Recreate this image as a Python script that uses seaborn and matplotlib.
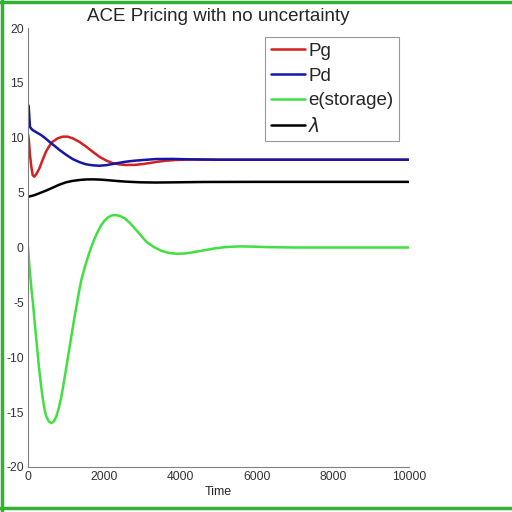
import matplotlib
matplotlib.use('Agg')
import matplotlib.pyplot as plt
import pandas as pd
import seaborn as sns
from matplotlib.lines import Line2D

# Data
t_pg = [0, 20, 52, 90, 122, 166, 220, 297, 380, 472, 560, 647, 780, 910,
        1040, 1172, 1350, 1522, 1700, 1872, 2050, 2222, 2400, 2572, 2800,
        3010, 3200, 3360, 3600, 3900, 4300, 5000, 6000, 10000]
pg = [10.3, 9.9, 8.43, 7.3, 6.6, 6.45, 6.7, 7.2, 7.95, 8.73, 9.25, 9.64,
      9.95, 10.1, 10.1, 9.95, 9.62, 9.2, 8.72, 8.27, 7.93, 7.69, 7.57, 7.52,
      7.53, 7.6, 7.7, 7.79, 7.9, 7.98, 8.02, 8.0, 8.0, 8.0]

t_pd = [0, 17, 35, 52, 80, 122, 220, 341, 450, 560, 690, 822, 1000, 1172,
        1350, 1522, 1700, 1872, 2050, 2222, 2400, 2572, 2800, 3010, 3360,
        3800, 4300, 5000, 10000]
pd_ = [13.0, 12.9, 11.9, 11.0, 10.85, 10.7, 10.5, 10.25, 9.97, 9.64, 9.28,
       8.9, 8.45, 8.06, 7.78, 7.58, 7.49, 7.45, 7.5, 7.61, 7.72, 7.82, 7.91,
       7.97, 8.06, 8.07, 8.03, 8.0, 8.0]

t_e = [0, 44, 90, 131, 175, 219, 262, 306, 350, 394, 437, 481, 547, 612,
       678, 744, 810, 875, 940, 1006, 1072, 1137, 1203, 1269, 1335, 1400,
       1490, 1575, 1660, 1750, 1840, 1925, 2010, 2100, 2200, 2293, 2410,
       2538, 2670, 2800, 2950, 3106, 3300, 3500, 3700, 3900, 4100, 4300,
       4600, 4900, 5200, 5550, 5900, 6300, 7000, 10000]
e = [0, -2.0, -3.8, -5.1, -6.8, -8.4, -10.0, -11.5, -12.8, -13.9, -14.8,
     -15.4, -15.85, -16.0, -15.85, -15.4, -14.6, -13.6, -12.3, -10.9, -9.5,
     -8.1, -6.7, -5.4, -4.1, -2.96, -1.8, -0.84, 0.05, 0.84, 1.5, 2.05,
     2.45, 2.75, 2.92, 2.96, 2.88, 2.66, 2.25, 1.75, 1.15, 0.53, 0.05,
     -0.3, -0.5, -0.57, -0.55, -0.45, -0.27, -0.08, 0.04, 0.1, 0.08, 0.03,
     0.0, 0.0]

t_lam = [0, 150, 297, 470, 647, 820, 997, 1170, 1347, 1520, 1697, 1870,
         2047, 2300, 2572, 2950, 3360, 3900, 4600, 6000, 10000]
lam = [4.62, 4.75, 4.94, 5.18, 5.45, 5.72, 5.94, 6.07, 6.15, 6.2, 6.21,
       6.19, 6.15, 6.07, 6.0, 5.94, 5.92, 5.94, 5.97, 5.98, 5.98]

labels = ['Pg', 'Pd', 'e(storage)', r'$\lambda$']
colors = ['#d42020', '#1515a8', '#40e040', '#000000']

df = pd.concat([
    pd.DataFrame({'Time': t_pg, 'value': pg, 'series': labels[0]}),
    pd.DataFrame({'Time': t_pd, 'value': pd_, 'series': labels[1]}),
    pd.DataFrame({'Time': t_e, 'value': e, 'series': labels[2]}),
    pd.DataFrame({'Time': t_lam, 'value': lam, 'series': labels[3]}),
])

sns.set_style('white')
plt.rcParams['font.family'] = ['Liberation Sans', 'DejaVu Sans']
plt.rcParams['axes.unicode_minus'] = False

fig = plt.figure(figsize=(5.12, 5.12), dpi=100)
ax = fig.add_axes([0.0547, 0.0879, 0.7441, 0.8574])

sns.lineplot(
    data=df, x='Time', y='value', hue='series',
    hue_order=labels, palette=colors,
    linewidth=1.8, errorbar=None, sort=True, ax=ax, legend=False
)

ax.set_xlim(0, 10000)
ax.set_ylim(-20, 20)
ax.set_xticks([0, 2000, 4000, 6000, 8000, 10000])
ax.set_yticks([-20, -15, -10, -5, 0, 5, 10, 15, 20])
ax.set_xlabel('Time', fontsize=9, color='#262626', labelpad=2)
ax.set_ylabel('')
ax.set_title('ACE Pricing with no uncertainty', fontsize=13.5, pad=5)

for s in ['top', 'right']:
    ax.spines[s].set_visible(False)
for s in ['left', 'bottom']:
    ax.spines[s].set_color('#808080')
    ax.spines[s].set_linewidth(0.8)
ax.tick_params(direction='in', length=4, width=0.8, color='#808080',
               labelsize=8.7, labelcolor='#333333', pad=3)

handles = [Line2D([], [], color=c, linewidth=1.8) for c in colors]
leg = ax.legend(handles, labels, loc='upper right',
                bbox_to_anchor=(0.974, 0.979), fontsize=13.5,
                frameon=True, fancybox=False, edgecolor='#808080',
                handlelength=1.8, handletextpad=0.2, labelspacing=0.4,
                borderpad=0.3, borderaxespad=0)
leg.get_frame().set_linewidth(0.8)

# green frame around the picture
for xs, ys in [([0.003, 0.003], [0, 1]), ([0, 1], [0.997, 0.997]),
               ([0, 1], [0.007, 0.007])]:
    fig.add_artist(Line2D(xs, ys, color='#34b034', linewidth=2.5,
                          transform=fig.transFigure))

fig.savefig('out.png', dpi=100)
